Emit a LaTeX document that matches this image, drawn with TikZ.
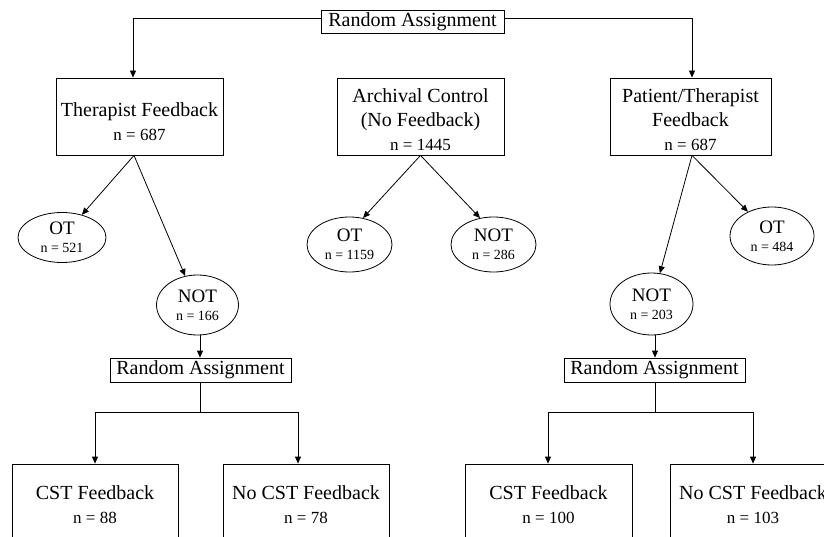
\documentclass[tikz,border=0pt]{standalone}
\usepackage{fontspec}
\setmainfont{Liberation Serif}
\usetikzlibrary{arrows.meta,shapes.geometric}
\newcommand\mynsize{\fontsize{17}{24}\selectfont}
\newcommand\myesize{\fontsize{14}{18}\selectfont}
\begin{document}
\begin{tikzpicture}[x=1pt,y=-1pt, line width=0.8pt,
  box/.style={draw, rectangle, inner sep=0pt, align=center, font=\fontsize{20}{24}\selectfont},
  oval/.style={draw, ellipse, inner sep=0pt, align=center, font=\fontsize{19}{18}\selectfont},
  arr/.style={-{Triangle[length=7pt,width=6pt]}}]
\useasboundingbox (0,0) rectangle (824,537);
\clip (0,0) rectangle (824,537);

% top level
\node[box, minimum width=183pt, minimum height=23pt] (ra1) at (412.5,21.5) {Random Assignment};
\node[box, minimum width=167pt, minimum height=77pt] (tf) at (139.5,116.5)
  {\rule{0pt}{24pt}Therapist Feedback\\{\mynsize n = 687}};
\node[box, minimum width=167pt, minimum height=77pt] (ac) at (420.5,116.5)
  {\rule{0pt}{21pt}Archival Control\\(No Feedback)\\{\mynsize n = 1445}};
\node[box, minimum width=161pt, minimum height=77pt] (pt) at (690.5,116.5)
  {\rule{0pt}{21pt}Patient/Therapist\\Feedback\\{\mynsize n = 687}};

% ellipses
\node[oval, minimum width=88pt, minimum height=50pt] (ot1) at (62,237.5) {OT\\{\myesize n = 521}};
\node[oval, minimum width=82pt, minimum height=60pt] (nt1) at (197.5,305) {NOT\\{\myesize n = 166}};
\node[oval, minimum width=85pt, minimum height=55pt] (ot2) at (349.5,244.5) {OT\\{\myesize n = 1159}};
\node[oval, minimum width=85pt, minimum height=55pt] (nt2) at (493.5,244.5) {NOT\\{\myesize n = 286}};
\node[oval, minimum width=84pt, minimum height=58pt] (ot3) at (772,236) {OT\\{\myesize n = 484}};
\node[oval, minimum width=83pt, minimum height=62pt] (nt3) at (651.5,304) {NOT\\{\myesize n = 203}};

% second random assignments
\node[box, minimum width=181pt, minimum height=24pt] (ra2) at (200.5,370) {Random Assignment};
\node[box, minimum width=181pt, minimum height=24pt] (ra3) at (654.5,370) {Random Assignment};

% bottom boxes
\node[box, minimum width=166pt, minimum height=81pt] (c1) at (95,504.5) {CST Feedback\\{\mynsize n = 88}};
\node[box, minimum width=166pt, minimum height=81pt] (c2) at (306,504.5) {No CST Feedback\\{\mynsize n = 78}};
\node[box, minimum width=167pt, minimum height=81pt] (c3) at (548.5,504.5) {CST Feedback\\{\mynsize n = 100}};
\node[box, minimum width=166pt, minimum height=81pt] (c4) at (753,504.5) {No CST Feedback\\{\mynsize n = 103}};

% connectors
\draw[arr] ([yshift=3.5pt]ra1.west) -| ([xshift=-6.5pt]tf.north);
\draw[arr] ([yshift=3.5pt]ra1.east) -| ([xshift=1.5pt]pt.north);

\coordinate (tfs) at ([xshift=-5.5pt]tf.south);
\draw[arr] (tfs) -- (ot1);
\draw[arr] (tfs) -- (nt1);

\draw[arr] (ac.south) -- (ot2.63);
\draw[arr] (ac.south) -- (nt2.117);

\coordinate (pts) at ([xshift=1.5pt]pt.south);
\draw[arr] (pts) -- (ot3);
\draw[arr] (pts) -- (nt3);

\coordinate (j1) at (200,412);
\draw[arr] (nt1.south -| j1) -- (ra2.north -| j1);
\draw (ra2.south -| j1) -- (j1);
\draw[arr] (j1) -| (c1.north);
\draw[arr] (j1) -| ([xshift=-8pt]c2.north);

\coordinate (j2) at (655,412);
\draw[arr] (nt3.south -| j2) -- (ra3.north -| j2);
\draw (ra3.south -| j2) -- (j2);
\draw[arr] (j2) -| ([xshift=-0.5pt]c3.north);
\draw[arr] (j2) -| (c4.north);
\end{tikzpicture}
\end{document}
